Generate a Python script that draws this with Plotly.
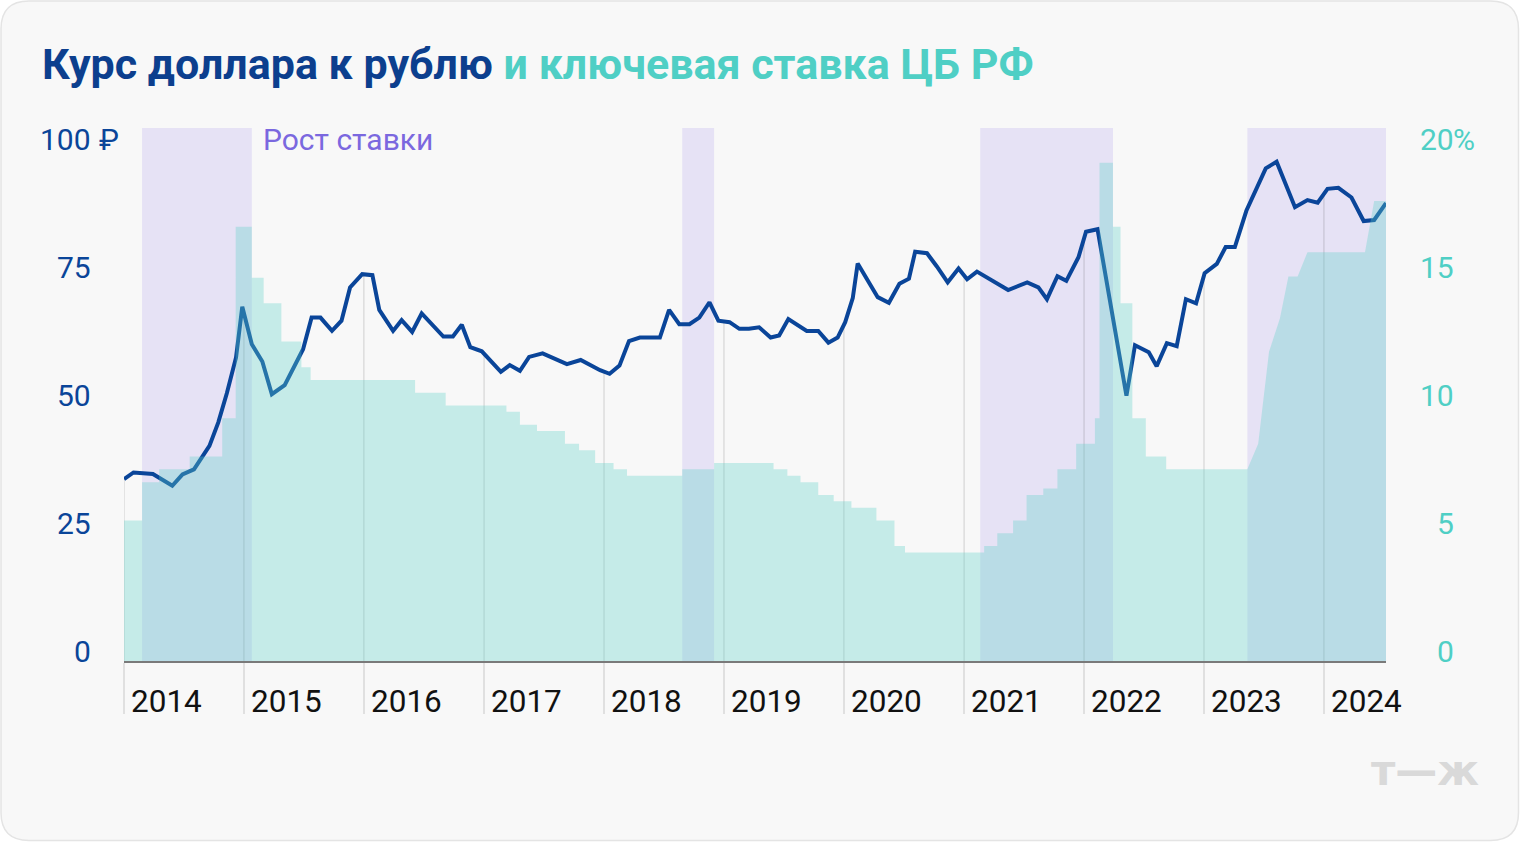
import plotly.graph_objects as go
import pandas as pd
import numpy as np

# ---------------- data ----------------
usd_dates = [
    "2014-01-01", "2014-01-30", "2014-03-30", "2014-05-28", "2014-06-28", "2014-08-02",
    "2014-09-18", "2014-10-15", "2014-11-10", "2014-12-08", "2014-12-27", "2015-01-25",
    "2015-02-26", "2015-03-27", "2015-05-05", "2015-06-30", "2015-07-26", "2015-08-22",
    "2015-09-26", "2015-10-25", "2015-11-20", "2015-12-27", "2016-01-27", "2016-02-17",
    "2016-03-30", "2016-04-25", "2016-05-27", "2016-06-25", "2016-08-30", "2016-09-28",
    "2016-10-25", "2016-11-20", "2016-12-25", "2017-02-21", "2017-03-20", "2017-04-20",
    "2017-05-18", "2017-06-28", "2017-09-10", "2017-10-22", "2017-12-20", "2018-01-18",
    "2018-02-17", "2018-03-18", "2018-04-20", "2018-06-20", "2018-07-18", "2018-08-18",
    "2018-09-18", "2018-10-18", "2018-11-18", "2018-12-15", "2019-01-18", "2019-02-17",
    "2019-03-18", "2019-04-18", "2019-05-23", "2019-06-18", "2019-07-16", "2019-09-10",
    "2019-10-15", "2019-11-15", "2019-12-13", "2020-01-05", "2020-01-28", "2020-02-12",
    "2020-04-13", "2020-05-17", "2020-06-18", "2020-07-17", "2020-08-05", "2020-09-10",
    "2020-10-10", "2020-11-12", "2020-12-15", "2021-01-10", "2021-02-09", "2021-05-15",
    "2021-07-12", "2021-08-15", "2021-09-10", "2021-10-12", "2021-11-08", "2021-12-15",
    "2022-01-07", "2022-02-11", "2022-05-10", "2022-06-05", "2022-07-17", "2022-08-10",
    "2022-09-10", "2022-10-10", "2022-11-07", "2022-12-08", "2023-01-03", "2023-02-09",
    "2023-03-08", "2023-04-05", "2023-05-10", "2023-07-08", "2023-08-10", "2023-10-05",
    "2023-11-12", "2023-12-13", "2024-01-12", "2024-02-14", "2024-03-25", "2024-05-01",
    "2024-06-02", "2024-07-08",
]
usd_values = [
    35.6, 36.9, 36.6, 34.3, 36.5, 37.5,
    42.1, 46.7, 52.4, 59.4, 69.3, 62.0,
    58.6, 52.2, 54.0, 61.0, 67.2, 67.2,
    64.6, 66.6, 73.1, 75.7, 75.5, 68.7,
    64.6, 66.7, 64.4, 68.0, 63.5, 63.5,
    65.8, 61.4, 60.6, 56.6, 57.9, 56.8,
    59.5, 60.2, 58.1, 58.9, 56.9, 56.2,
    57.8, 62.6, 63.3, 63.3, 68.7, 65.9,
    65.9, 67.2, 70.2, 66.6, 66.3, 65.0,
    65.0, 65.3, 63.3, 63.7, 66.9, 64.6,
    64.6, 62.3, 63.3, 66.3, 71.0, 77.8,
    71.2, 70.1, 73.8, 74.8, 80.1, 79.8,
    77.2, 74.1, 76.8, 74.7, 76.2, 72.6,
    74.1, 73.1, 70.8, 75.3, 74.4, 79.0,
    84.0, 84.5, 51.9, 61.8, 60.4, 57.7,
    62.2, 61.6, 70.8, 70.0, 75.9, 77.7,
    81.0, 81.0, 88.1, 96.4, 97.7, 88.8,
    90.2, 89.7, 92.4, 92.6, 90.7, 86.1,
    86.3, 89.6,
]

# key rate: step changes (date the new level starts, level, %)
rate_step_dates = [
    "2014-01-01", "2014-02-25", "2014-04-18", "2014-07-20", "2014-10-27", "2014-12-07",
    "2015-01-25", "2015-03-02", "2015-04-25", "2015-06-25", "2015-07-23", "2016-06-05",
    "2016-09-06", "2017-03-10", "2017-04-20", "2017-06-11", "2017-09-04", "2017-10-17",
    "2017-12-05", "2018-01-30", "2018-03-12", "2018-08-27", "2018-12-02", "2019-06-01",
    "2019-07-13", "2019-08-22", "2019-10-15", "2019-12-01", "2020-01-24", "2020-04-09",
    "2020-06-03", "2020-07-05", "2021-03-03", "2021-04-12", "2021-05-30", "2021-07-10",
    "2021-08-30", "2021-10-12", "2021-12-08", "2022-02-03", "2022-02-17", "2022-03-30",
    "2022-04-22", "2022-05-28", "2022-07-08", "2022-09-08",
]
rate_step_values = [
    5.5, 7.0, 7.5, 8.0, 9.5, 17.0,
    15.0, 14.0, 12.5, 11.5, 11.0, 10.5,
    10.0, 9.75, 9.25, 9.0, 8.5, 8.25,
    7.75, 7.5, 7.25, 7.5, 7.75, 7.5,
    7.25, 7.0, 6.5, 6.25, 6.0, 5.5,
    4.5, 4.25, 4.5, 5.0, 5.5, 6.5,
    6.75, 7.5, 8.5, 9.5, 19.5, 17.0,
    14.0, 9.5, 8.0, 7.5,
]
# key rate: 2023-2024 gradual part
rate_ramp_dates = ["2023-05-13", "2023-06-15", "2023-07-18", "2023-08-20", "2023-09-15",
                   "2023-10-13", "2023-11-12", "2024-05-05", "2024-06-02", "2024-07-08"]
rate_ramp_values = [7.5, 8.5, 12.1, 13.4, 15.05, 15.05, 16.0, 16.0, 18.0, 18.0]

# periods of rate growth
hike_starts = ["2014-02-25", "2018-08-27", "2021-02-19", "2023-05-13"]
hike_ends = ["2015-01-25", "2018-12-02", "2022-03-30", "2024-07-08"]

year_ticks = [f"{y}-01-01" for y in range(2014, 2025)]
year_labels = [str(y) for y in range(2014, 2025)]
rub_ticks = [0, 25, 50, 75, 100]
rub_labels = ["0", "25", "50", "75", "100"]
rate_ticks = [0, 5, 10, 15, 20]
rate_labels = ["0", "5", "10", "15", "20"]

X_START, X_END = "2014-01-01", "2024-07-08"
RUB_MAX, RATE_MAX = 104.3, 20.86

# ---------------- layout geometry ----------------
W, H = 1520, 842
ML, MR, MT, MB = 124, 134, 128, 181
PW, PH = W - ML - MR, H - MT - MB


def px2x(px):
    return (px - ML) / PW


def py2y(py):
    return (H - MB - py) / PH


DARK = "#0a4599"
TEAL = "#4fcfc5"
PURPLE = "#7b68df"
FONT = "Roboto"

# rate polyline
rx, ry = [], []
for i, (d, v) in enumerate(zip(rate_step_dates, rate_step_values)):
    if i > 0:
        rx.append(d)
        ry.append(rate_step_values[i - 1])
    rx.append(d)
    ry.append(v)
rx += rate_ramp_dates
ry += rate_ramp_values

# drop lines from the exchange-rate line at each year start
t_line = pd.to_datetime(usd_dates).astype("int64").to_numpy()
t_ticks = pd.to_datetime(year_ticks).astype("int64").to_numpy()
tick_vals = np.interp(t_ticks, t_line, usd_values)
dx, dy = [], []
for d, v in zip(year_ticks, tick_vals):
    dx += [d, d, None]
    dy += [float(v), 0, None]

fig = go.Figure()

fig.add_trace(go.Scatter(
    x=rx, y=ry, yaxis="y2", mode="lines", line=dict(width=0),
    fill="tozeroy", fillcolor="rgba(95,209,200,0.333)", hoverinfo="skip", showlegend=False,
))
fig.add_trace(go.Scatter(
    x=dx, y=dy, mode="lines", line=dict(color="rgba(0,0,0,0.11)", width=1.5),
    hoverinfo="skip", showlegend=False,
))
fig.add_trace(go.Scatter(
    x=usd_dates, y=usd_values, mode="lines", line=dict(color=DARK, width=4),
    showlegend=False,
))

shapes = []
# card
r = 28
x0, y0, x1, y1 = 1, 1, W - 1.5, H - 1.5
pts = [
    ("M", [(x0 + r, y0)]), ("L", [(x1 - r, y0)]), ("Q", [(x1, y0), (x1, y0 + r)]),
    ("L", [(x1, y1 - r)]), ("Q", [(x1, y1), (x1 - r, y1)]), ("L", [(x0 + r, y1)]),
    ("Q", [(x0, y1), (x0, y1 - r)]), ("L", [(x0, y0 + r)]), ("Q", [(x0, y0), (x0 + r, y0)]),
]
path = " ".join(c + " " + " ".join(f"{px2x(a):.5f},{py2y(b):.5f}" for a, b in p) for c, p in pts) + " Z"
shapes.append(dict(type="path", path=path, xref="paper", yref="paper", layer="below",
                   fillcolor="#f8f8f8", line=dict(color="#e4e4e4", width=1.5)))
for s, e in zip(hike_starts, hike_ends):
    shapes.append(dict(type="rect", xref="x", yref="paper", x0=s, x1=e, y0=0, y1=1,
                       fillcolor="#e6e2f5", line=dict(width=0), layer="below"))

ann = []
ann.append(dict(
    text=f"<b><span style='color:#0c3f8e'>Курс доллара к рублю</span> "
         f"<span style='color:{TEAL}'>и ключевая ставка ЦБ РФ</span></b>",
    xref="paper", yref="paper", x=px2x(40), y=py2y(64), xanchor="left", yanchor="middle",
    showarrow=False, font=dict(family=FONT, size=43),
))
for v, t in zip(rub_ticks, rub_labels):
    ann.append(dict(text=t, xref="paper", yref="y", x=px2x(93), y=v, yshift=10,
                    xanchor="right", yanchor="middle", showarrow=False,
                    font=dict(family=FONT, size=30, color=DARK)))
ann.append(dict(text="₽", xref="paper", yref="y", x=px2x(97), y=rub_ticks[-1], yshift=10,
                xanchor="left", yanchor="middle", showarrow=False,
                font=dict(family=FONT, size=30, color=DARK)))
for v, t in zip(rate_ticks, rate_labels):
    ann.append(dict(text=t, xref="paper", yref="y2", x=px2x(1456), y=v, yshift=10,
                    xanchor="right", yanchor="middle", showarrow=False,
                    font=dict(family=FONT, size=30, color=TEAL)))
ann.append(dict(text="%", xref="paper", yref="y2", x=px2x(1451), y=rate_ticks[-1], yshift=10,
                xanchor="left", yanchor="middle", showarrow=False,
                font=dict(family=FONT, size=30, color=TEAL)))
for d, t in zip(year_ticks, year_labels):
    ann.append(dict(text=t, xref="x", yref="paper", x=d, xshift=5, y=py2y(701),
                    xanchor="left", yanchor="middle", showarrow=False,
                    font=dict(family=FONT, size=31.5, color="#111111")))
ann.append(dict(text="Рост ставки", xref="paper", yref="y", x=px2x(261), y=rub_ticks[-1],
                yshift=10, xanchor="left", yanchor="middle", showarrow=False,
                font=dict(family=FONT, size=30, color=PURPLE)))
ann.append(dict(text="<b>т—ж</b>", xref="paper", yref="paper", x=px2x(1481), y=py2y(770),
                xanchor="right", yanchor="middle", showarrow=False,
                font=dict(family="DejaVu Sans", size=42, color="#d9d9d9")))

fig.update_layout(
    width=W, height=H,
    margin=dict(l=ML, r=MR, t=MT, b=MB, pad=0),
    paper_bgcolor="#ffffff", plot_bgcolor="rgba(0,0,0,0)",
    shapes=shapes, annotations=ann, showlegend=False,
    xaxis=dict(type="date", range=[X_START, X_END], showgrid=False, zeroline=False,
               tickvals=year_ticks, ticks="outside", ticklen=51, tickwidth=1.5,
               tickcolor="#e0e0e0", showticklabels=False,
               showline=True, linecolor="#7a7a7a", linewidth=2, fixedrange=True),
    yaxis=dict(range=[0, RUB_MAX], showgrid=False, zeroline=False, showticklabels=False,
               fixedrange=True),
    yaxis2=dict(range=[0, RATE_MAX], overlaying="y", side="right", showgrid=False,
                zeroline=False, showticklabels=False, fixedrange=True),
)

fig.write_html("out.html", config={"displayModeBar": False},
               post_script="document.body.style.margin='0';")
